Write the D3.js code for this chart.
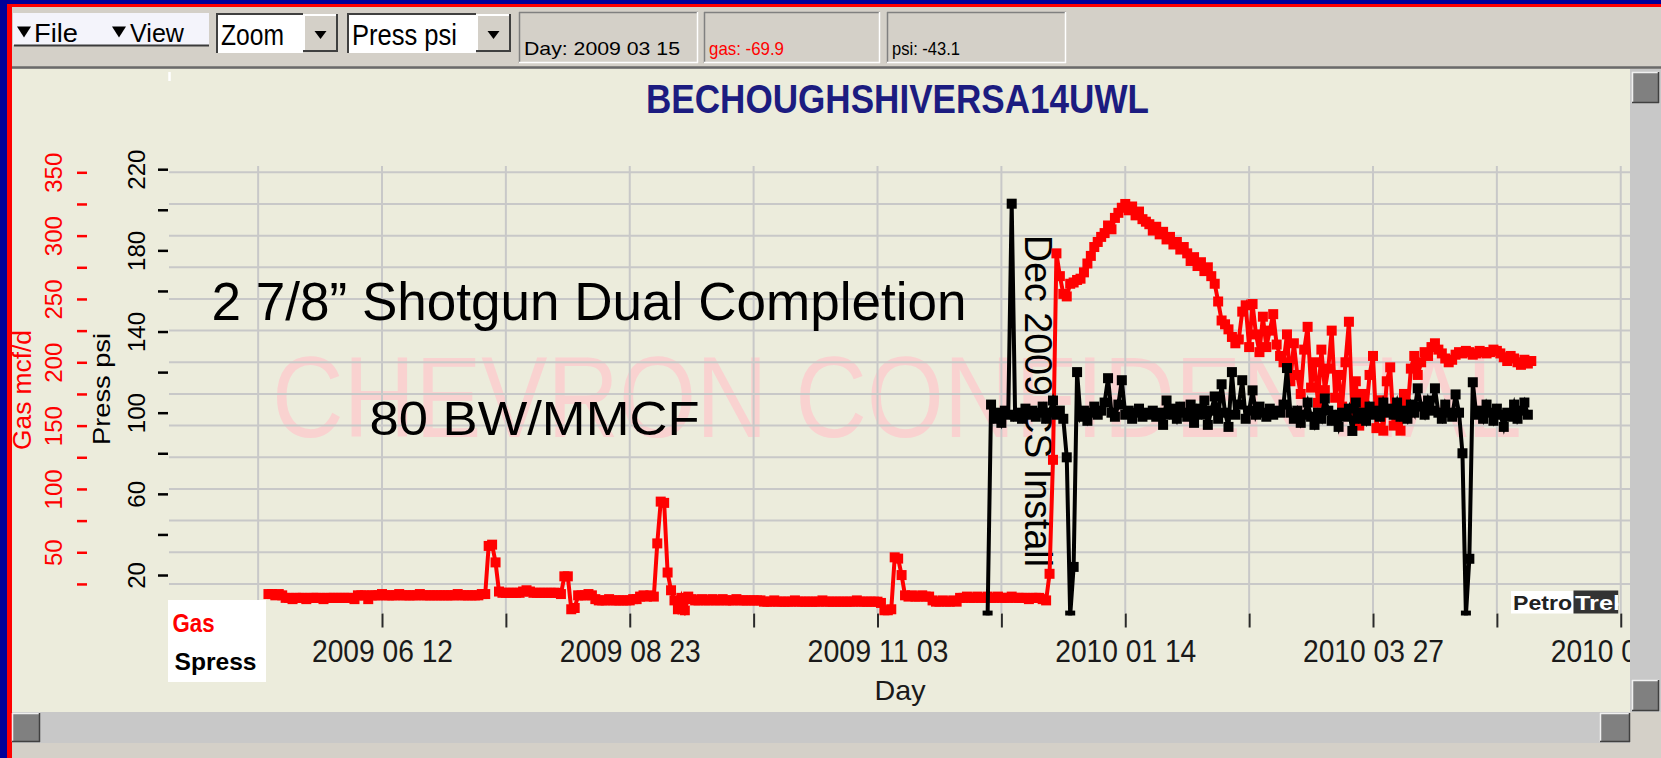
<!DOCTYPE html>
<html>
<head>
<meta charset="utf-8">
<script src="https://cdn.jsdelivr.net/npm/d3@7"></script>
<style>
html,body{margin:0;padding:0;background:#D4D0C8;overflow:hidden;}
svg{display:block;}
</style>
</head>
<body>
<svg id="chart" width="1661" height="758"></svg>
<script>
// ---------------- DATA ----------------
const chartTitle = "BECHOUGHSHIVERSA14UWL";
const xAxisTitle = "Day";
const gasAxisTitle = "Gas mcf/d";
const pressAxisTitle = "Press psi";
const seriesNames = ["Gas", "Spress"];
const gasTicks = [25,50,75,100,125,150,175,200,225,250,275,300,325,350];
const gasTickLabels = [50,100,150,200,250,300,350];
const pressTicks = [20,40,60,80,100,120,140,160,180,200,220];
const pressTickLabels = [20,60,100,140,180,220];
const dayTicks = ["2009-05-07","2009-06-12","2009-07-18","2009-08-23","2009-09-28","2009-11-03","2009-12-09","2010-01-14","2010-02-19","2010-03-27","2010-05-02","2010-06-07"];
const dayTickLabels = ["2009-06-12","2009-08-23","2009-11-03","2010-01-14","2010-03-27","2010-06-07"];
const noteCompletion = "2 7/8\u201D Shotgun Dual Completion";
const noteWater = "80 BW/MMCF";
const noteInstall = "Dec 2009 CS Install";
const watermarkText = "CHEVRON CONFIDENTIAL";
const menuItems = ["File", "View"];
const comboItems = ["Zoom", "Press psi"];
const statusTexts = ["Day: 2009 03 15", "gas: -69.9", "psi: -43.1"];

// daily gas rate, mcf/d (each array starts on the date paired with it below)
const gas_2009_05 = [17,17,16,17,16,14,14,13,14,14,14,13,14,14,14,14,13,14,14,14,14,14];
const gas_2009_06 = [14,14,14,13,16,16,16,13,16,16,16,17,16,16,16,16,17,16,16,16,16,16,17,16,16,16,16,16,16,16];
const gas_2009_07 = [16,16,16,17,16,16,16,16,16,16,17,17,55,56,42,19,18,18,18,18,18,18,19,20,19,18,18,18,18,18,18];
const gas_2009_08 = [18,18,17,31,31,5,6,16,16,16,17,16,13,12,12,12,13,12,12,12,12,12,12,13,13,15,16,15,16,15,57];
const gas_2009_09 = [90,89,34,20,12,5,14,4,15,13,12,12,13,12,12,13,12,12,13,12,12,12,13,12,12,12,12,12,12,12];
const gas_2009_10 = [11,11,11,12,11,11,11,11,11,12,11,11,11,11,11,11,11,12,11,11,11,11,11,11,11,11,11,12,11,11,11];
const gas_2009_11 = [11,11,11,10,4,4,5,46,45,32,16,15,16,15,15,16,15,15,12,11,11,12,11,11,12,11,14,14,15,14];
const gas_2009_12 = [14,15,14,14,15,14,14,15,14,14,14,15,14,14,14,14,13,14,14,14,13,12,33,123,286,268,254,252,262,263,265];
const gas_2010_01 = [266,271,278,284,291,295,299,302,308,305,314,318,322,325,320,323,316,319,313,311,309,304,307,301,303,297,299,293,295,289,291];
const gas_2010_02 = [286,280,283,276,279,272,275,268,262,248,233,230,226,220,215,218,240,245,212,246,222,208,236,212,225,238,214,205];
const gas_2010_03 = [200,222,185,215,190,175,210,228,180,200,168,210,178,195,225,172,190,165,200,232,160,185,150,175,160,190,205,148,170,146,185];
const gas_2010_04 = [196,150,165,146,175,160,195,205,190,200,208,205,212,215,210,207,203,200,202,206,208,207,209,208,206,207,209,208,207,208];
const gas_2010_05 = [210,209,207,204,201,205,203,200,198,202,199,201];

// daily pressure, psi
const press_2009_12 = [0,104,97,100,95,101,99,203,98,100,97,102,99,101,98,100,103,97,100,106,99,101,97,78,0,24,120];
const press_2010_01 = [98,101,96,100,103,99,101,105,117,100,98,104,116,99,101,97,100,102,98,100,99,101,98,100,94,106,99,102,97,103,100];
const press_2010_02 = [98,104,95,102,99,106,94,101,108,97,114,100,93,120,99,104,116,97,101,111,99,103,100,98,102,99,101,100];
const press_2010_03 = [104,122,100,97,101,95,99,105,98,94,100,97,107,101,96,99,93,100,98,102,91,105,97,100,96,103,99,101,98,105,100];
const press_2010_04 = [102,99,105,98,101,97,104,100,112,103,99,106,101,112,100,97,104,100,98,109,100,80,0,28,115,99,101,97,104,100];
const press_2010_05 = [96,102,99,93,100,98,104,97,101,105,99];

const gasMonths = [
  ["2009-05-10", gas_2009_05], ["2009-06-01", gas_2009_06], ["2009-07-01", gas_2009_07],
  ["2009-08-01", gas_2009_08], ["2009-09-01", gas_2009_09], ["2009-10-01", gas_2009_10],
  ["2009-11-01", gas_2009_11], ["2009-12-01", gas_2009_12], ["2010-01-01", gas_2010_01],
  ["2010-02-01", gas_2010_02], ["2010-03-01", gas_2010_03], ["2010-04-01", gas_2010_04],
  ["2010-05-01", gas_2010_05]
];
const pressMonths = [
  ["2009-12-05", press_2009_12], ["2010-01-01", press_2010_01], ["2010-02-01", press_2010_02],
  ["2010-03-01", press_2010_03], ["2010-04-01", press_2010_04], ["2010-05-01", press_2010_05]
];

// ---------------- RENDER ----------------
const FONT = '"Liberation Sans", Arial, Helvetica, sans-serif';
const W = 1661, H = 758;
const parse = d3.utcParse("%Y-%m-%d");
const iso = d3.utcFormat("%Y-%m-%d");
function daily(months) {
  const out = [];
  months.forEach(([s, arr]) => {
    const d0 = parse(s);
    arr.forEach((v, i) => out.push({ date: d3.utcDay.offset(d0, i), v }));
  });
  return out;
}
const gasData = daily(gasMonths);
const pressData = daily(pressMonths);

const svg = d3.select("#chart");
const defs = svg.append("defs");
defs.append("clipPath").attr("id", "panelClip").append("rect")
  .attr("x", 12).attr("y", 69).attr("width", 1618).attr("height", 643);
defs.append("clipPath").attr("id", "dataClip").append("rect")
  .attr("x", 169).attr("y", 69).attr("width", 1461).attr("height", 546.6);
defs.append("clipPath").attr("id", "logoClip").append("rect")
  .attr("x", 1511).attr("y", 590).attr("width", 107.5).attr("height", 24);

function label(g, s, o) {
  const t = g.append("text").text(s)
    .attr("x", o.x).attr("y", o.y)
    .attr("font-family", o.family || FONT)
    .attr("font-size", o.size)
    .attr("fill", o.fill || "#000");
  if (o.weight) t.attr("font-weight", o.weight);
  if (o.anchor) t.attr("text-anchor", o.anchor);
  if (o.len) t.attr("textLength", o.len).attr("lengthAdjust", "spacingAndGlyphs");
  if (o.rotate) t.attr("transform", `rotate(${o.rotate},${o.x},${o.y})`);
  return t;
}
function rect(g, x, y, w, h, fill) {
  return g.append("rect").attr("x", x).attr("y", y).attr("width", w).attr("height", h).attr("fill", fill);
}
function hline(g, x1, x2, y, c, w) {
  g.append("line").attr("x1", x1).attr("x2", x2).attr("y1", y).attr("y2", y).attr("stroke", c).attr("stroke-width", w);
}
function vline(g, x, y1, y2, c, w) {
  g.append("line").attr("x1", x).attr("x2", x).attr("y1", y1).attr("y2", y2).attr("stroke", c).attr("stroke-width", w);
}
function tri(g, cx, cy, w, h) {
  g.append("path").attr("d", `M${cx - w / 2},${cy - h / 2}L${cx + w / 2},${cy - h / 2}L${cx},${cy + h / 2}Z`).attr("fill", "#000");
}

// window background
rect(svg, 0, 0, W, H, "#D4D0C8");

// ---- toolbar ----
const tb = svg.append("g");
rect(tb, 13, 13, 196, 32, "#F4F4FB");
hline(tb, 14, 209, 45.5, "#3A3A3A", 2);
tri(tb, 24, 32, 14, 11);
label(tb, menuItems[0], { x: 34, y: 41.5, size: 25, len: 44 });
tri(tb, 119, 32, 14, 11);
label(tb, menuItems[1], { x: 130, y: 41.5, size: 25, len: 54 });

function combo(x, w, text, tlen) {
  rect(tb, x, 13, w, 40, "#FFFFFF");
  hline(tb, x, x + w, 14, "#404040", 2);
  vline(tb, x + 1, 13, 53, "#404040", 2);
  const bx = x + w;
  rect(tb, bx, 14, 35, 38, "#D4D0C8");
  hline(tb, bx, bx + 35, 15, "#FFFFFF", 2);
  vline(tb, bx + 1, 14, 52, "#FFFFFF", 2);
  hline(tb, bx, bx + 35, 51, "#404040", 2);
  vline(tb, bx + 34, 14, 52, "#404040", 2);
  tri(tb, bx + 17.5, 35, 12, 8);
  label(tb, text, { x: x + 5, y: 45, size: 29, len: tlen });
}
combo(216, 87, comboItems[0], 63);
combo(347, 129, comboItems[1], 105);

function statusPanel(x, w, text, tlen, fill) {
  rect(tb, x, 12, w, 51, "#D4D0C8");
  hline(tb, x, x + w, 12.5, "#808080", 1.5);
  vline(tb, x + 0.5, 12, 63, "#808080", 1.5);
  hline(tb, x, x + w, 62.5, "#FFFFFF", 1.5);
  vline(tb, x + w - 0.5, 12, 63, "#FFFFFF", 1.5);
  label(tb, text, { x: x + 5, y: 55, size: 19, len: tlen, fill: fill });
}
statusPanel(519, 179, statusTexts[0], 156, "#000");
statusPanel(704, 176, statusTexts[1], 75, "#FF0000");
statusPanel(887, 179, statusTexts[2], 68, "#000");

hline(svg, 12, W, 67.5, "#6A6A6A", 2.5);

// ---- plot panel ----
rect(svg, 12, 69, 1618, 643, "#ECECDC");

// frame (top + left)
rect(svg, 0, 0, W, 4, "#000099");
rect(svg, 0, 0, 7, H, "#000099");
rect(svg, 7, 4, W - 7, 3, "#FF0000");
rect(svg, 7, 4, 5, H - 4, "#FF0000");

// scales
const x = d3.scaleUtc().domain([parse("2009-06-12"), parse("2010-03-27")]).range([382, 1373]);
const yGas = d3.scaleLinear().domain([0, 350]).range([615.6, 172.3]);
const yPress = d3.scaleLinear().domain([0, 220]).range([615.6, 169.2]);

const panel = svg.append("g").attr("clip-path", "url(#panelClip)");

// watermark
label(panel, watermarkText, { x: 272, y: 437, size: 115, len: 1250, fill: "#F9D2D0" });

// grid
const grid = panel.append("g").attr("stroke", "#C8C8C8").attr("stroke-width", 2);
grid.selectAll("line.h").data(gasTicks).join("line").attr("class", "h")
  .attr("x1", 169).attr("x2", 1630).attr("y1", d => yGas(d)).attr("y2", d => yGas(d));
grid.selectAll("line.v").data(dayTicks.map(parse)).join("line").attr("class", "v")
  .attr("x1", d => x(d)).attr("x2", d => x(d)).attr("y1", 166).attr("y2", 613);

// small white mark at top of axis
vline(panel, 169.5, 72, 81, "#FFFFFF", 2.5);

// x axis
const labelSet = new Set(dayTickLabels);
const fmt = d3.utcFormat("%Y %m %d");
const xAxis = d3.axisBottom(x).tickValues(dayTicks.map(parse)).tickSize(14).tickPadding(0)
  .tickFormat(d => labelSet.has(iso(d)) ? fmt(d) : "");
const gx = panel.append("g").attr("transform", "translate(0,613.5)").call(xAxis);
gx.select(".domain").remove();
gx.selectAll(".tick line").attr("stroke", "#2a2a2a").attr("stroke-width", 2);
gx.selectAll(".tick text").attr("y", 48.2).attr("dy", null)
  .attr("font-size", 32).attr("font-family", FONT).attr("fill", "#1a1a1a")
  .filter(function () { return this.textContent !== ""; })
  .attr("textLength", 141).attr("lengthAdjust", "spacingAndGlyphs");
label(panel, xAxisTitle, { x: 900, y: 700, size: 28, anchor: "middle", len: 51, fill: "#1a1a1a" });

// gas axis (red, far left)
const gasAxis = d3.axisLeft(yGas).tickValues(gasTicks).tickSize(10)
  .tickFormat(d => gasTickLabels.includes(d) ? d : "");
const gg = svg.append("g").attr("transform", "translate(87,0)").call(gasAxis);
gg.select(".domain").remove();
gg.selectAll(".tick line").attr("stroke", "#FF0000").attr("stroke-width", 2.5);
gg.selectAll(".tick text").attr("x", 0).attr("dy", null).attr("text-anchor", "middle")
  .attr("transform", "translate(-25,0) rotate(-90)")
  .attr("fill", "#FF0000").attr("font-size", 24).attr("font-family", FONT);
label(svg, gasAxisTitle, { x: 31, y: 390, size: 25, anchor: "middle", len: 120, fill: "#FF0000", rotate: -90 });

// pressure axis (black)
const pressAxis = d3.axisLeft(yPress).tickValues(pressTicks).tickSize(10)
  .tickFormat(d => pressTickLabels.includes(d) ? d : "");
const gp = svg.append("g").attr("transform", "translate(168,0)").call(pressAxis);
gp.select(".domain").remove();
gp.selectAll(".tick line").attr("stroke", "#000").attr("stroke-width", 2.5);
gp.selectAll(".tick text").attr("x", 0).attr("dy", null).attr("text-anchor", "middle")
  .attr("transform", "translate(-23,0) rotate(-90)")
  .attr("fill", "#000").attr("font-size", 24).attr("font-family", FONT);
label(svg, pressAxisTitle, { x: 110, y: 389, size: 24, anchor: "middle", len: 112, fill: "#000", rotate: -90 });

// title
label(svg, chartTitle, { x: 897.5, y: 112.5, size: 40, anchor: "middle", len: 503, fill: "#1C1C80", weight: "bold" });

// annotations
label(panel, noteCompletion, { x: 211.5, y: 320, size: 53, len: 755 });
label(panel, noteWater, { x: 369.5, y: 435, size: 49, len: 330 });
label(panel, noteInstall, { x: 1025, y: 235, size: 39, len: 332, rotate: 90 });

// data
const dataG = svg.append("g").attr("clip-path", "url(#dataClip)");
function drawSeries(data, y, color) {
  dataG.append("path").datum(data)
    .attr("d", d3.line().x(d => x(d.date)).y(d => y(d.v)))
    .attr("fill", "none").attr("stroke", color).attr("stroke-width", 4);
  dataG.append("g").selectAll("rect").data(data).join("rect")
    .attr("x", d => x(d.date) - 5).attr("y", d => y(d.v) - 5)
    .attr("width", 10).attr("height", 10).attr("fill", color);
}
drawSeries(gasData, yGas, "#FF0000");
drawSeries(pressData, yPress, "#000000");

// legend
rect(panel, 168, 600, 98, 82, "#FFFFFF");
label(panel, seriesNames[0], { x: 172.5, y: 631.5, size: 25, weight: "bold", len: 42, fill: "#FF0000" });
label(panel, seriesNames[1], { x: 174.5, y: 670, size: 24, weight: "bold", len: 82, fill: "#000" });

// logo
const logo = svg.append("g").attr("clip-path", "url(#logoClip)");
rect(logo, 1511, 591, 62.5, 22.5, "#FFFFFF");
rect(logo, 1573.5, 590.5, 45, 23, "#333333");
label(logo, "Petro", { x: 1513, y: 610, size: 21, weight: "bold", len: 59, fill: "#222" });
label(logo, "Trek", { x: 1575, y: 610, size: 21, weight: "bold", len: 52, fill: "#FFFFFF" });

// scrollbars
rect(svg, 1630, 69, 31, 643, "#C8C8C8");
function button(x, y, w, h) {
  rect(svg, x, y, w, h, "#808080");
  hline(svg, x, x + w, y + 0.5, "#F0F0F0", 1.5);
  vline(svg, x + 0.5, y, y + h, "#F0F0F0", 1.5);
  hline(svg, x, x + w, y + h - 0.5, "#404040", 1.5);
  vline(svg, x + w - 0.5, y, y + h, "#404040", 1.5);
}
button(1632, 72, 27, 31);
button(1632, 680, 27, 31);
rect(svg, 12, 712, 1618, 31, "#C8C8C8");
button(12, 713, 28, 29);
button(1600, 713, 30, 29);
</script>
</body>
</html>
